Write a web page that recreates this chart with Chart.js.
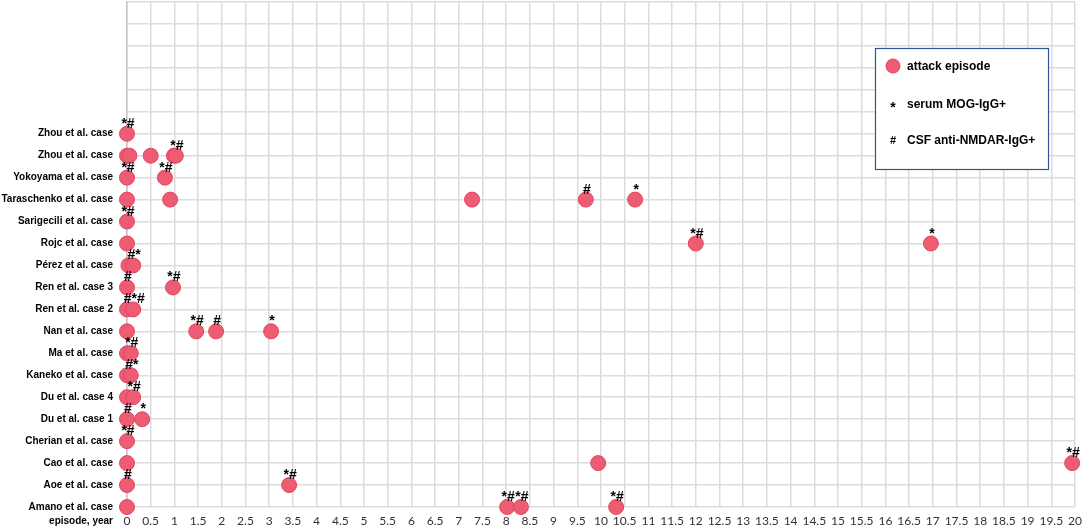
<!DOCTYPE html>
<html>
<head>
<meta charset="utf-8">
<script src="https://cdn.jsdelivr.net/npm/chart.js@4.4.0/dist/chart.umd.min.js"></script>
<style>
  html, body { margin: 0; padding: 0; background: #fff; }
  #wrap { width: 1084px; height: 529px; position: relative; }
</style>
</head>
<body>
<div id="wrap"><canvas id="grafico"></canvas></div>
<script>
// cases from bottom (y = 0) to top
const caseLabels = [
  'Amano et al. case', 'Aoe et al. case', 'Cao et al. case', 'Cherian et al. case',
  'Du et al. case 1', 'Du et al. case 4', 'Kaneko et al. case', 'Ma et al. case',
  'Nan et al. case', 'Ren et al. case 2', 'Ren et al. case 3', 'Pérez et al. case',
  'Rojc et al. case', 'Sarigecili et al. case', 'Taraschenko et al. case',
  'Yokoyama et al. case', 'Zhou et al. case', 'Zhou et al. case'
];

// attack episodes (years) for each case, same order
const episodeYears = [
  [0, 8.02, 8.31, 10.32],
  [0, 3.42],
  [0, 9.94, 19.94],
  [0],
  [0, 0.32],
  [0, 0.13],
  [0, 0.08],
  [0, 0.08],
  [0, 1.46, 1.88, 3.04],
  [0, 0.13],
  [0, 0.97],
  [0.03, 0.13],
  [0, 12.0, 16.96],
  [0],
  [0, 0.91, 7.28, 9.68, 10.72],
  [0, 0.8],
  [0, 0.05, 0.5, 0.99, 1.03],
  [0]
];

// marks above each episode: * serum MOG-IgG+, # CSF anti-NMDAR-IgG+
const episodeMarks = [
  ['', '*#', '*#', '*#'],
  ['#', '*#'],
  ['', '', '*#'],
  ['*#'],
  ['#', '*'],
  ['', '*#'],
  ['', '#*'],
  ['', '*#'],
  ['', '*#', '#', '*'],
  ['', '#*#'],
  ['#', '*#'],
  ['', '#*'],
  ['', '*#', '*'],
  ['*#'],
  ['', '', '', '#', '*'],
  ['*#', '*#'],
  ['', '', '', '', '*#'],
  ['*#']
];

const xTicks = { min: 0, max: 20, step: 0.5 };
const emptyRowsAbove = 6;

const puntos = [];
episodeYears.forEach((years, i) => {
  years.forEach((x, j) => puntos.push({ x: x, y: i, mark: episodeMarks[i][j] || '' }));
});

const pointColor = 'rgb(237, 92, 114)';
const pointBorder = 'rgb(224, 70, 95)';
const labelFont = 'bold 10px "Liberation Sans", Arial, sans-serif';
const legendFont = 'bold 12px "Liberation Sans", Arial, sans-serif';

const marksPlugin = {
  id: 'marks',
  afterDatasetsDraw(chart) {
    const ctx = chart.ctx;
    const meta = chart.getDatasetMeta(0);
    ctx.save();
    ctx.fillStyle = '#000';
    ctx.font = 'bold 14px "Liberation Sans", Arial, sans-serif';
    ctx.textAlign = 'center';
    ctx.textBaseline = 'alphabetic';
    meta.data.forEach((el, k) => {
      const m = puntos[k].mark;
      if (m) ctx.fillText(m, el.x + 1, el.y - 6);
    });
    ctx.restore();
  }
};

const extrasPlugin = {
  id: 'extras',
  afterDraw(chart) {
    const ctx = chart.ctx;
    const xs = chart.scales.x;
    const ys = chart.scales.y;
    ctx.save();
    // axis caption at left of x ticks
    ctx.font = labelFont;
    ctx.fillStyle = '#000';
    ctx.textAlign = 'right';
    ctx.textBaseline = 'middle';
    ctx.fillText('episode, year', ys.right - 14, xs.top + 14);

    // legend box
    const bx = 875, by = 48, bw = 173, bh = 121;
    ctx.fillStyle = '#fff';
    ctx.fillRect(bx, by, bw, bh);
    ctx.strokeStyle = '#2f5597';
    ctx.lineWidth = 1.2;
    ctx.strokeRect(bx + 0.5, by + 0.5, bw, bh);

    ctx.beginPath();
    ctx.arc(893, 66, 7, 0, Math.PI * 2);
    ctx.fillStyle = pointColor;
    ctx.fill();
    ctx.strokeStyle = pointBorder;
    ctx.lineWidth = 1;
    ctx.stroke();

    ctx.fillStyle = '#000';
    ctx.textAlign = 'left';
    ctx.font = legendFont;
    ctx.fillText('attack episode', 907, 67);
    ctx.fillText('serum MOG-IgG+', 907, 105);
    ctx.fillText('CSF anti-NMDAR-IgG+', 907, 141);
    ctx.textAlign = 'center';
    ctx.font = 'bold 14px "Liberation Sans", Arial, sans-serif';
    ctx.fillText('*', 893, 108);
    ctx.font = 'bold 11px "Liberation Sans", Arial, sans-serif';
    ctx.fillText('#', 893, 141);
    ctx.restore();
  }
};

const config = {
  type: 'scatter',
  data: {
    datasets: [{
      label: 'attack episode',
      data: puntos,
      backgroundColor: pointColor,
      borderColor: pointBorder,
      borderWidth: 1,
      pointRadius: 7.5,
      pointHoverRadius: 7.5,
      clip: false
    }]
  },
  options: {
    responsive: true,
    maintainAspectRatio: false,
    animation: false,
    layout: { autoPadding: false, padding: { top: 2, right: 9, left: 0, bottom: 0 } },
    plugins: {
      legend: { display: false },
      tooltip: { enabled: false }
    },
    scales: {
      x: {
        type: 'linear',
        min: xTicks.min,
        max: xTicks.max,
        afterFit(scale) {
          scale.height = 22;
          scale.paddingLeft = 0;
          scale.paddingRight = 0;
        },
        afterBuildTicks(scale) {
          const t = [];
          for (let v = xTicks.min; v <= xTicks.max + 1e-9; v += xTicks.step) t.push({ value: v });
          scale.ticks = t;
        },
        ticks: {
          autoSkip: false,
          maxRotation: 0,
          padding: 7,
          color: '#333',
          font: { family: 'Lato, "Open Sans", sans-serif', size: 12 },
          callback: (v) => String(v)
        },
        grid: { color: '#dcdcdc', lineWidth: 1.5, drawTicks: false },
        border: { display: false }
      },
      y: {
        type: 'linear',
        min: 0,
        max: caseLabels.length - 1 + emptyRowsAbove,
        afterFit(scale) {
          scale.width = 127;
          scale.paddingTop = 0;
          scale.paddingBottom = 0;
        },
        afterBuildTicks(scale) {
          const t = [];
          for (let v = 0; v <= caseLabels.length - 1 + emptyRowsAbove; v++) t.push({ value: v });
          scale.ticks = t;
        },
        ticks: {
          autoSkip: false,
          padding: 14,
          color: '#000',
          font: { family: '"Liberation Sans", Arial, sans-serif', size: 10, weight: 'bold' },
          callback: (v) => caseLabels[v] || ''
        },
        grid: { color: '#dcdcdc', lineWidth: 1.5, drawTicks: false },
        border: { display: true, color: '#c4c4c4', width: 1.5 }
      }
    }
  },
  plugins: [marksPlugin, extrasPlugin]
};

window.addEventListener('DOMContentLoaded', () => {
  const ctx = document.getElementById('grafico').getContext('2d');
  new Chart(ctx, config);
});
</script>
</body>
</html>
